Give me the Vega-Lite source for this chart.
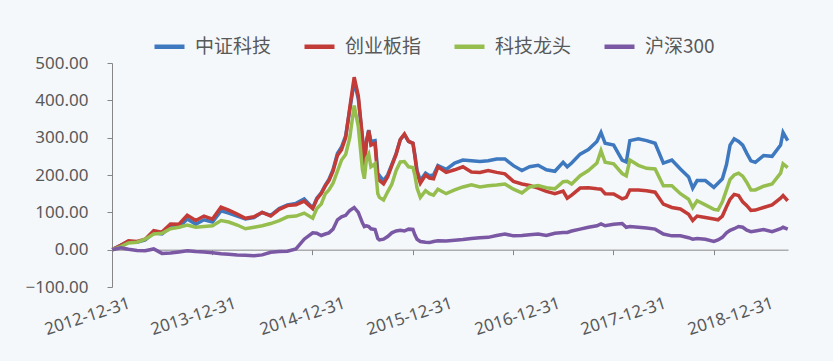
{
"$schema": "https://vega.github.io/schema/vega-lite/v6.json",
"width": 676,
"height": 224,
"autosize": {"type": "none"},
"padding": {"left": 112, "top": 63, "right": 45, "bottom": 74},
"background": "#F4F8FB",
"config": {"view": {"stroke": null}, "font": "Noto Sans"},
"data": {"values": [
{"d":"2013-01-01","中证科技":0,"创业板指":0,"科技龙头":0,"沪深300":0},
{"d":"2013-02-01","中证科技":12,"创业板指":12,"科技龙头":8,"沪深300":5},
{"d":"2013-03-01","中证科技":22,"创业板指":24,"科技龙头":18,"沪深300":1},
{"d":"2013-04-01","中证科技":20,"创业板指":22,"科技龙头":20,"沪深300":-2},
{"d":"2013-05-01","中证科技":26,"创业板指":28,"科技龙头":28,"沪深300":-3},
{"d":"2013-06-01","中证科技":45,"创业板指":51,"科技龙头":42,"沪深300":2},
{"d":"2013-07-01","中证科技":42,"创业板指":47,"科技龙头":44,"沪深300":-10},
{"d":"2013-08-01","中证科技":60,"创业板指":69,"科技龙头":56,"沪深300":-9},
{"d":"2013-09-01","中证科技":60,"创业板指":68,"科技龙头":60,"沪深300":-6},
{"d":"2013-10-01","中证科技":82,"创业板指":92,"科技龙头":66,"沪深300":-3},
{"d":"2013-11-01","中证科技":68,"创业板指":78,"科技龙头":60,"沪深300":-5},
{"d":"2013-12-01","中证科技":80,"创业板指":90,"科技龙头":62,"沪深300":-6},
{"d":"2014-01-01","中证科技":74,"创业板指":82,"科技龙头":64,"沪深300":-8},
{"d":"2014-02-01","中证科技":104,"创业板指":114,"科技龙头":78,"沪深300":-11},
{"d":"2014-03-01","中证科技":98,"创业板指":106,"科技龙头":74,"沪深300":-12},
{"d":"2014-04-01","中证科技":90,"创业板指":95,"科技龙头":66,"沪深300":-14},
{"d":"2014-05-01","中证科技":82,"创业板指":84,"科技龙头":56,"沪深300":-15},
{"d":"2014-06-01","中证科技":86,"创业板指":88,"科技龙头":60,"沪深300":-16},
{"d":"2014-07-01","中证科技":100,"创业板指":100,"科技龙头":64,"沪深300":-14},
{"d":"2014-08-01","中证科技":92,"创业板指":90,"科技龙头":70,"沪深300":-7},
{"d":"2014-09-01","中证科技":110,"创业板指":108,"科技龙头":78,"沪深300":-5},
{"d":"2014-10-01","中证科技":120,"创业板指":118,"科技龙头":88,"沪深300":-4},
{"d":"2014-11-01","中证科技":124,"创业板指":120,"科技龙头":90,"沪深300":2},
{"d":"2014-12-01","中证科技":136,"创业板指":130,"科技龙头":98,"沪深300":28},
{"d":"2015-01-01","中证科技":112,"创业板指":110,"科技龙头":84,"沪深300":45},
{"d":"2015-01-16","中证科技":138,"创业板指":135,"科技龙头":110,"沪深300":44},
{"d":"2015-02-01","中证科技":152,"创业板指":150,"科技龙头":122,"沪深300":38},
{"d":"2015-02-16","中证科技":173,"创业板指":171,"科技龙头":150,"沪深300":42},
{"d":"2015-03-01","中证科技":188,"创业板指":185,"科技龙头":160,"沪深300":45},
{"d":"2015-03-16","中证科技":214,"创业板指":210,"科技龙头":178,"沪深300":55},
{"d":"2015-04-01","中证科技":258,"创业板指":252,"科技龙头":210,"沪深300":80},
{"d":"2015-04-16","中证科技":275,"创业板指":268,"科技龙头":240,"沪深300":88},
{"d":"2015-05-01","中证科技":305,"创业板指":300,"科技龙头":255,"沪深300":92},
{"d":"2015-05-16","中证科技":375,"创业板指":380,"科技龙头":300,"沪深300":105},
{"d":"2015-06-01","中证科技":450,"创业板指":462,"科技龙头":386,"沪深300":113},
{"d":"2015-06-16","中证科技":405,"创业板指":412,"科技龙头":330,"沪深300":100},
{"d":"2015-07-01","中证科技":300,"创业板指":300,"科技龙头":215,"沪深300":72},
{"d":"2015-07-08","中证科技":230,"创业板指":225,"科技龙头":190,"沪深300":62},
{"d":"2015-07-16","中证科技":292,"创业板指":290,"科技龙头":245,"沪深300":64},
{"d":"2015-07-24","中证科技":320,"创业板指":319,"科技龙头":256,"沪深300":62},
{"d":"2015-08-01","中证科技":290,"创业板指":280,"科技龙头":222,"沪深300":56},
{"d":"2015-08-16","中证科技":292,"创业板指":285,"科技龙头":230,"沪深300":54},
{"d":"2015-08-26","中证科技":205,"创业板指":190,"科技龙头":150,"沪深300":30},
{"d":"2015-09-01","中证科技":198,"创业板指":185,"科技龙头":140,"沪深300":26},
{"d":"2015-09-16","中证科技":185,"创业板指":176,"科技龙头":133,"沪深300":28},
{"d":"2015-10-01","中证科技":200,"创业板指":195,"科技龙头":155,"沪深300":35},
{"d":"2015-10-16","中证科技":228,"创业板指":225,"科技龙头":175,"沪深300":45},
{"d":"2015-11-01","中证科技":258,"创业板指":256,"科技龙头":212,"沪深300":50},
{"d":"2015-11-16","中证科技":295,"创业板指":295,"科技龙头":235,"沪深300":52},
{"d":"2015-12-01","中证科技":308,"创业板指":310,"科技龙头":236,"沪深300":50},
{"d":"2015-12-16","中证科技":290,"创业板指":290,"科技龙头":222,"沪深300":55},
{"d":"2016-01-01","中证科技":285,"创业板指":285,"科技龙头":220,"沪深300":54},
{"d":"2016-01-08","中证科技":255,"创业板指":250,"科技龙头":200,"沪深300":40},
{"d":"2016-01-16","中证科技":212,"创业板指":205,"科技龙头":165,"沪深300":28},
{"d":"2016-01-28","中证科技":185,"创业板指":178,"科技龙头":140,"沪深300":22},
{"d":"2016-02-16","中证科技":205,"创业板指":200,"科技龙头":158,"沪深300":20},
{"d":"2016-03-01","中证科技":198,"创业板指":192,"科技龙头":150,"沪深300":19},
{"d":"2016-03-16","中证科技":200,"创业板指":190,"科技龙头":146,"沪深300":22},
{"d":"2016-04-01","中证科技":225,"创业板指":222,"科技龙头":162,"沪深300":24},
{"d":"2016-05-01","中证科技":215,"创业板指":207,"科技龙头":150,"沪深300":23},
{"d":"2016-06-01","中证科技":232,"创业板指":214,"科技龙头":160,"沪深300":25},
{"d":"2016-07-01","中证科技":240,"创业板指":222,"科技龙头":168,"沪深300":27},
{"d":"2016-08-01","中证科技":238,"创业板指":208,"科技龙头":174,"沪深300":30},
{"d":"2016-09-01","中证科技":236,"创业板指":207,"科技龙头":168,"沪深300":32},
{"d":"2016-10-01","中证科技":238,"创业板指":212,"科技龙头":171,"沪深300":33},
{"d":"2016-11-01","中证科技":243,"创业板指":207,"科技龙头":173,"沪深300":38},
{"d":"2016-12-01","中证科技":243,"创业板指":203,"科技龙头":176,"沪深300":42},
{"d":"2017-01-01","中证科技":225,"创业板指":183,"科技龙头":162,"沪深300":37},
{"d":"2017-02-01","中证科技":212,"创业板指":176,"科技龙头":152,"沪深300":38},
{"d":"2017-03-01","中证科技":222,"创业板指":172,"科技龙头":168,"沪深300":40},
{"d":"2017-04-01","中证科技":226,"创业板指":165,"科技龙头":172,"沪深300":42},
{"d":"2017-05-01","中证科技":214,"创业板指":156,"科技龙头":166,"沪深300":38},
{"d":"2017-06-01","中证科技":210,"创业板指":150,"科技龙头":163,"沪深300":44},
{"d":"2017-07-01","中证科技":234,"创业板指":157,"科技龙头":182,"沪深300":46},
{"d":"2017-07-16","中证科技":222,"创业板指":138,"科技龙头":183,"沪深300":46},
{"d":"2017-08-01","中证科技":232,"创业板指":146,"科技龙头":176,"沪深300":50},
{"d":"2017-09-01","中证科技":256,"创业板指":165,"科技龙头":198,"沪深300":55},
{"d":"2017-10-01","中证科技":268,"创业板指":166,"科技龙头":212,"沪深300":60},
{"d":"2017-11-01","中证科技":290,"创业板指":163,"科技龙头":232,"沪深300":64},
{"d":"2017-11-16","中证科技":314,"创业板指":162,"科技龙头":265,"沪深300":69},
{"d":"2017-12-01","中证科技":285,"创业板指":150,"科技龙头":234,"沪深300":64},
{"d":"2018-01-01","中证科技":280,"创业板指":149,"科技龙头":230,"沪深300":68},
{"d":"2018-02-01","中证科技":240,"创业板指":136,"科技龙头":204,"沪深300":70},
{"d":"2018-02-16","中证科技":235,"创业板指":140,"科技龙头":198,"沪深300":60},
{"d":"2018-03-01","中证科技":292,"创业板指":160,"科技龙头":240,"沪深300":62},
{"d":"2018-04-01","中证科技":297,"创业板指":160,"科技龙头":226,"沪深300":60},
{"d":"2018-05-01","中证科技":292,"创业板指":158,"科技龙头":218,"沪深300":58},
{"d":"2018-06-01","中证科技":285,"创业板指":154,"科技龙头":216,"沪深300":55},
{"d":"2018-07-01","中证科技":232,"创业板指":122,"科技龙头":171,"沪深300":42},
{"d":"2018-08-01","中证科技":240,"创业板指":113,"科技龙头":171,"沪深300":37},
{"d":"2018-09-01","中证科技":216,"创业板指":109,"科技龙头":150,"沪深300":37},
{"d":"2018-10-01","中证科技":195,"创业板指":95,"科技龙头":135,"沪深300":32},
{"d":"2018-10-16","中证科技":165,"创业板指":78,"科技龙头":113,"沪深300":28},
{"d":"2018-11-01","中证科技":185,"创业板指":90,"科技龙头":131,"沪深300":30},
{"d":"2018-12-01","中证科技":185,"创业板指":86,"科技龙头":120,"沪深300":28},
{"d":"2019-01-01","中证科技":167,"创业板指":82,"科技龙头":108,"沪深300":22},
{"d":"2019-01-16","中证科技":178,"创业板指":80,"科技龙头":106,"沪深300":26},
{"d":"2019-02-01","中证科技":190,"创业板指":90,"科技龙头":128,"沪深300":33},
{"d":"2019-02-16","中证科技":228,"创业板指":115,"科技龙头":160,"沪深300":45},
{"d":"2019-03-01","中证科技":280,"创业板指":135,"科技龙头":188,"沪深300":52},
{"d":"2019-03-16","中证科技":297,"创业板指":148,"科技龙头":200,"沪深300":56},
{"d":"2019-04-01","中证科技":290,"创业板指":145,"科技龙头":205,"沪深300":62},
{"d":"2019-04-16","中证科技":280,"创业板指":128,"科技龙头":197,"沪深300":60},
{"d":"2019-05-01","中证科技":258,"创业板指":118,"科技龙头":180,"沪深300":52},
{"d":"2019-05-16","中证科技":238,"创业板指":105,"科技龙头":160,"沪深300":48},
{"d":"2019-06-01","中证科技":234,"创业板指":106,"科技龙头":160,"沪深300":50},
{"d":"2019-07-01","中证科技":252,"创业板指":113,"科技龙头":170,"沪深300":54},
{"d":"2019-08-01","中证科技":250,"创业板指":120,"科技龙头":176,"沪深300":48},
{"d":"2019-09-01","中证科技":280,"创业板指":138,"科技龙头":205,"沪深300":56},
{"d":"2019-09-10","中证科技":314,"创业板指":145,"科技龙头":230,"沪深300":60},
{"d":"2019-09-27","中证科技":292,"创业板指":131,"科技龙头":220,"沪深300":55}
]},
"transform": [{"fold": ["中证科技", "创业板指", "科技龙头", "沪深300"], "as": ["s", "v"]}],
"layer": [
{
"mark": {"type": "line", "strokeWidth": 3.5},
"encoding": {
"x": {"field": "d", "type": "temporal",
"scale": {"type": "utc", "domain": [{"year": 2012, "month": 12, "date": 31, "utc": true}, {"year": 2019, "month": 9, "date": 28, "utc": true}]},
"axis": {"orient": "bottom", "title": null, "domain": false, "ticks": false, "grid": false,
"values": [{"year": 2013, "month": 2, "date": 23, "utc": true}, {"year": 2014, "month": 3, "date": 16, "utc": true}, {"year": 2015, "month": 4, "date": 17, "utc": true}, {"year": 2016, "month": 5, "date": 11, "utc": true}, {"year": 2017, "month": 6, "date": 8, "utc": true}, {"year": 2018, "month": 6, "date": 29, "utc": true}, {"year": 2019, "month": 7, "date": 24, "utc": true}],
"labelExpr": "(utcyear(datum.value) - 1) + '-12-31'",
"labelAngle": -18, "labelAlign": "right", "labelBaseline": "top", "labelPadding": 8,
"labelFontSize": 17, "labelColor": "#595959", "labelFont": "Noto Sans",
"labelOverlap": false, "labelBound": false, "labelFlush": false}},
"y": {"field": "v", "type": "quantitative",
"scale": {"domain": [-100, 500], "nice": false, "zero": false},
"axis": {"title": null, "grid": false, "values": [-100, 0, 100, 200, 300, 400, 500], "format": ".2f",
"domainColor": "#868686", "tickColor": "#868686", "tickSize": 5, "labelPadding": 19,
"labelFontSize": 17, "labelColor": "#595959", "labelFont": "Noto Sans"}},
"color": {"field": "s", "type": "nominal",
"scale": {"domain": ["中证科技", "创业板指", "科技龙头", "沪深300"], "range": ["#3E78BF", "#C23B37", "#96BE4F", "#7A58A4"]},
"legend": {"title": null, "orient": "none", "legendX": 40, "legendY": -34, "direction": "horizontal",
"symbolType": "stroke", "symbolSize": 900, "symbolStrokeWidth": 4.5, "symbolOffset": 0,
"labelFont": "Noto Sans CJK SC", "labelFontSize": 19, "labelColor": "#595959", "labelOffset": 8, "columnPadding": 23}}
}
},
{
"mark": {"type": "rule", "opacity": 0},
"encoding": {
"x": {"field": "d", "type": "temporal",
"axis": {"orient": "bottom", "offset": -37.33, "title": null, "labels": false, "grid": false,
"domainColor": "#868686", "tickColor": "#868686", "tickSize": 5,
"values": [{"year": 2012, "month": 12, "date": 31, "utc": true}, {"year": 2013, "month": 12, "date": 31, "utc": true}, {"year": 2014, "month": 12, "date": 31, "utc": true}, {"year": 2015, "month": 12, "date": 31, "utc": true}, {"year": 2016, "month": 12, "date": 31, "utc": true}, {"year": 2017, "month": 12, "date": 31, "utc": true}, {"year": 2018, "month": 12, "date": 31, "utc": true}]}}
}
}
],
"resolve": {"axis": {"x": "independent"}}
}
